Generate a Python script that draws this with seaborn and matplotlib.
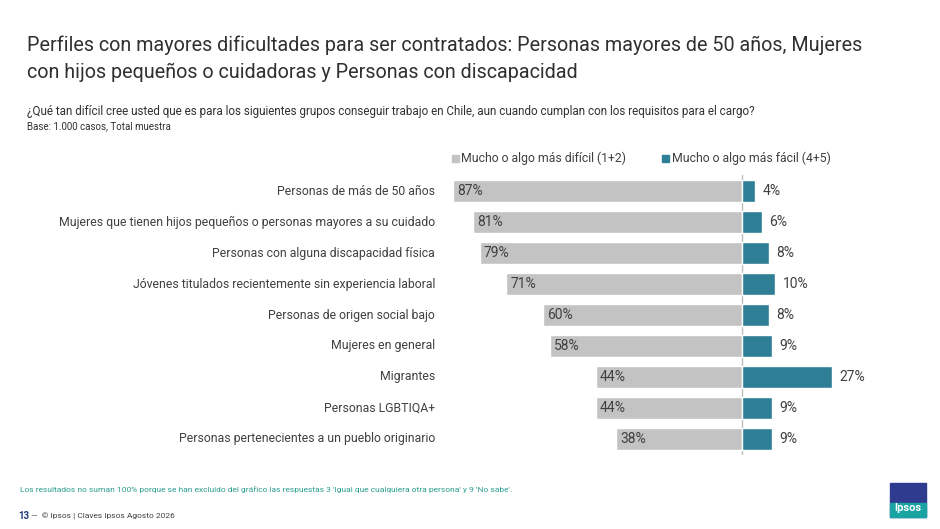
import matplotlib
matplotlib.use("Agg")
import matplotlib.pyplot as plt
import seaborn as sns
import pandas as pd

categories = ["Personas de más de 50 años",
              "Mujeres que tienen hijos pequeños o personas mayores a su cuidado",
              "Personas con alguna discapacidad física",
              "Jóvenes titulados recientemente sin experiencia laboral",
              "Personas de origen social bajo",
              "Mujeres en general",
              "Migrantes",
              "Personas LGBTIQA+",
              "Personas pertenecientes a un pueblo originario"]
dificil = [87, 81, 79, 71, 60, 58, 44, 44, 38]
facil = [4, 6, 8, 10, 8, 9, 27, 9, 9]

GRAY = "#c3c3c3"
TEAL = "#2e7f96"
FONT = ["Roboto", "DejaVu Sans"]

sns.set_theme(style="white")
plt.rcParams["font.family"] = FONT

df = pd.DataFrame({"cat": categories, "neg": [-v for v in dificil], "pos": facil})

fig = plt.figure(figsize=(9.4, 5.29), dpi=100)
ax = fig.add_axes([440/940, 1-455/529, 420/940, 280/529])
sns.barplot(data=df, x="neg", y="cat", color=GRAY, width=0.72, ax=ax, orient="h", saturation=1)
sns.barplot(data=df, x="pos", y="cat", color=TEAL, width=0.72, ax=ax, orient="h", saturation=1)
ax.set_xlim(-91, 35.5)
ax.set_ylim(8.52, -0.52)
ax.axvline(0, color="#bdbdbd", lw=1, zorder=0)
for s in ax.spines.values():
    s.set_visible(False)
ax.set_xticks([])
ax.set_yticks([])
ax.set_xlabel("")
ax.set_ylabel("")

for i, (c, d, f) in enumerate(zip(categories, dificil, facil)):
    ax.text(-d + 1.2, i, f"{d}%", va="center", ha="left", fontsize=10, color="#404040")
    ax.text(f + 2.2, i, f"{f}%", va="center", ha="left", fontsize=10, color="#404040")
    ax.text(-92.5, i, c, va="center", ha="right", fontsize=8.8, color="#404040")

# legend
fig.patches.append(plt.Rectangle((452/940, 1-162/529), 7/940, 7/529, color=GRAY, transform=fig.transFigure))
fig.text(461/940, 1-158/529, "Mucho o algo más difícil (1+2)", fontsize=8.8, va="center", color="#404040")
fig.patches.append(plt.Rectangle((662/940, 1-162/529), 7/940, 7/529, color=TEAL, transform=fig.transFigure))
fig.text(672/940, 1-158/529, "Mucho o algo más fácil (4+5)", fontsize=8.8, va="center", color="#404040")

fig.text(27/940, 1-45/529, "Perfiles con mayores dificultades para ser contratados: Personas mayores de 50 años, Mujeres",
         fontsize=14.2, va="center", color="#303030")
fig.text(27/940, 1-72/529, "con hijos pequeños o cuidadoras y Personas con discapacidad",
         fontsize=14.2, va="center", color="#303030")
fig.text(27/940, 1-112/529, "¿Qué tan difícil cree usted que es para los siguientes grupos conseguir trabajo en Chile, aun cuando cumplan con los requisitos para el cargo?",
         fontsize=8.4, va="center", color="#303030")
fig.text(27/940, 1-126/529, "Base: 1.000 casos, Total muestra", fontsize=7, va="center", color="#303030")
fig.text(20/940, 1-490/529, "Los resultados no suman 100% porque se han excluido del gráfico las respuestas 3 'Igual que cualquiera otra persona' y 9 'No sabe'.",
         fontsize=6, va="center", color="#2a9d8f")
fig.text(18/940, 1-516/529, "13", fontsize=7, fontweight="bold", va="center", color="#1f3f7a")
fig.text(31/940, 1-516/529, "—  © Ipsos | Claves Ipsos Agosto 2026", fontsize=6, va="center", color="#404040")

# logo
fig.patches.append(plt.Rectangle((890/940, 1-517/529), 36/940, 34/529, color="#2e3b8f", transform=fig.transFigure))
fig.patches.append(plt.Rectangle((890/940, 1-517/529), 36/940, 14/529, color="#1aa3a3", transform=fig.transFigure))
fig.text(908/940, 1-508/529, "Ipsos", fontsize=8, color="white", ha="center", va="center", fontweight="bold")

fig.savefig("out.png", dpi=100)
